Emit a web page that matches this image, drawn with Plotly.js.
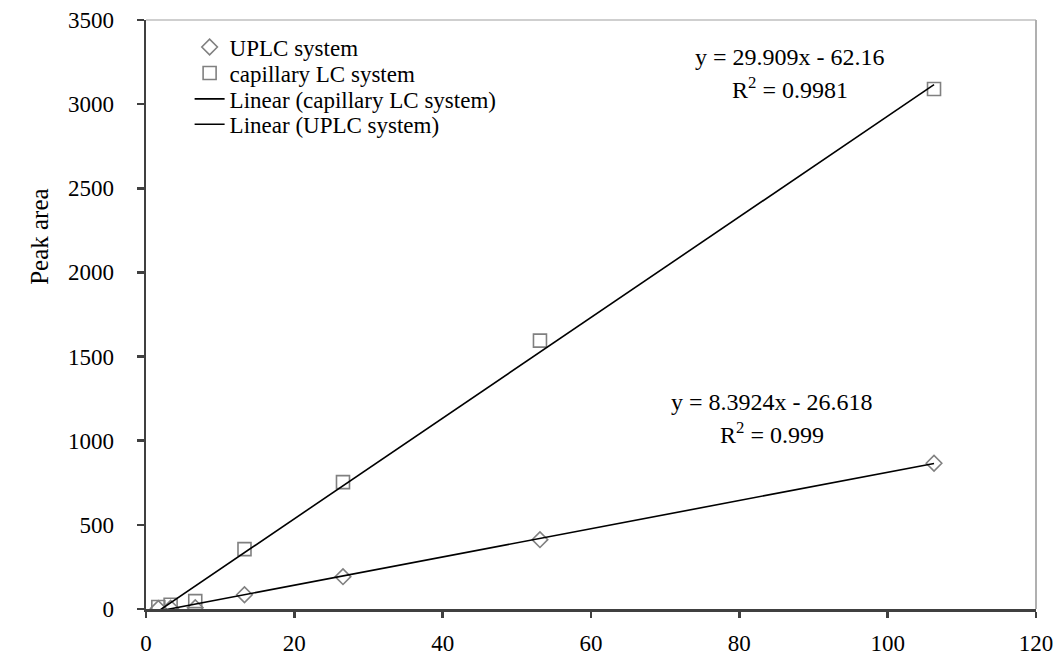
<!DOCTYPE html>
<html>
<head>
<meta charset="utf-8">
<script src="https://cdn.plot.ly/plotly-3.0.1.min.js"></script>
<style>
  html, body { margin: 0; padding: 0; background: #fff; }
  #chart { width: 1063px; height: 657px; }
</style>
</head>
<body>
<div id="chart"></div>
<script>
// Concentration levels (x) shared by both systems
const concentration = [1.66, 3.32, 6.64, 13.28, 26.56, 53.12, 106.25];

// Measured peak areas
const uplcArea = [3, 5, 8, 85, 192, 412, 866];
const capillaryArea = [12, 25, 47, 356, 754, 1595, 3090];

// Linear trendline coefficients [slope, intercept] and R²
const capillaryFit = [29.909, -62.16];
const uplcFit = [8.3924, -26.618];
const capillaryR2 = '0.9981';
const uplcR2 = '0.999';

// Axis ticks
const xTicks = [0, 20, 40, 60, 80, 100, 120];
const yTicks = [0, 500, 1000, 1500, 2000, 2500, 3000, 3500];

const FONT = "'Liberation Serif', 'Times New Roman', serif";
const xMin = Math.min(...concentration);
const xMax = Math.max(...concentration);
const fitLine = (c) => ({ x: [xMin, xMax], y: [c[0] * xMin + c[1], c[0] * xMax + c[1]] });

const capLine = fitLine(capillaryFit);
const uplcLine = fitLine(uplcFit);

const traces = [
  {
    x: concentration, y: uplcArea, name: 'UPLC system', mode: 'markers', type: 'scatter', legend: 'legend',
    marker: { symbol: 'diamond-open', size: 12, color: '#808080', line: { width: 1.6, color: '#808080' } }
  },
  {
    x: concentration, y: capillaryArea, name: 'capillary LC system', mode: 'markers', type: 'scatter', legend: 'legend2',
    marker: { symbol: 'square-open', size: 13, color: '#808080', line: { width: 1.6, color: '#808080' } }
  },
  {
    x: capLine.x, y: capLine.y, name: 'Linear (capillary LC system)', mode: 'lines', type: 'scatter', legend: 'legend3',
    line: { color: '#000', width: 1.6 }
  },
  {
    x: uplcLine.x, y: uplcLine.y, name: 'Linear (UPLC system)', mode: 'lines', type: 'scatter', legend: 'legend4',
    line: { color: '#000', width: 1.6 }
  }
];

const fmt = (c) => 'y = ' + c[0] + 'x - ' + Math.abs(c[1]);

// one single-entry legend per row so rows sit close together
const legendRow = (y) => ({
  x: 0.049, y: y, xanchor: 'left', yanchor: 'middle',
  bgcolor: 'rgba(0,0,0,0)', borderwidth: 0,
  font: { family: FONT, size: 23, color: '#000' }, itemwidth: 30
});

const txt = { family: FONT, size: 23, color: '#000' };
const eq = { family: FONT, size: 24, color: '#000' };

const layout = {
  width: 1063, height: 657,
  margin: { l: 146, r: 27, t: 20, b: 48 },
  paper_bgcolor: '#fff', plot_bgcolor: '#fff',
  font: txt,
  showlegend: true,
  legend: legendRow(0.954),
  legend2: legendRow(0.910),
  legend3: legendRow(0.866),
  legend4: legendRow(0.823),
  xaxis: {
    range: [0, 120], tickvals: xTicks, ticktext: xTicks.map(String),
    showgrid: false, zeroline: false,
    showline: true, linecolor: '#404040', linewidth: 2.5,
    ticks: 'outside', ticklen: 6, tickwidth: 2.5, tickcolor: '#404040',
    ticklabelstandoff: 6,
    tickfont: txt
  },
  yaxis: {
    range: [0, 3500], tickvals: yTicks, ticktext: yTicks.map(String),
    showgrid: false, zeroline: false,
    showline: true, linecolor: '#404040', linewidth: 2.5,
    ticks: 'outside', ticklen: 7, tickwidth: 2.5, tickcolor: '#404040',
    ticklabelstandoff: 18,
    tickfont: txt
  },
  shapes: [
    { type: 'line', xref: 'paper', yref: 'paper', x0: 0, x1: 1, y0: 1, y1: 1, line: { color: '#a0a0a0', width: 1.2 } },
    { type: 'line', xref: 'paper', yref: 'paper', x0: 1, x1: 1, y0: 0, y1: 1, line: { color: '#a8a8a8', width: 1.8 } }
  ],
  annotations: [
    { x: -0.119, y: 0.632, xref: 'paper', yref: 'paper', xanchor: 'center', yanchor: 'middle',
      text: 'Peak area', textangle: -90, showarrow: false,
      font: { family: FONT, size: 25, color: '#000' } },
    { x: 86.8, y: 3280, xref: 'x', yref: 'y', text: fmt(capillaryFit), showarrow: false, font: eq },
    { x: 86.8, y: 3096, xref: 'x', yref: 'y', text: 'R<sup>2</sup> = ' + capillaryR2, showarrow: false, font: eq },
    { x: 84.4, y: 1230, xref: 'x', yref: 'y', text: fmt(uplcFit), showarrow: false, font: eq },
    { x: 84.4, y: 1046, xref: 'x', yref: 'y', text: 'R<sup>2</sup> = ' + uplcR2, showarrow: false, font: eq }
  ]
};

Plotly.newPlot('chart', traces, layout, { displayModeBar: false, staticPlot: true });
</script>
</body>
</html>
